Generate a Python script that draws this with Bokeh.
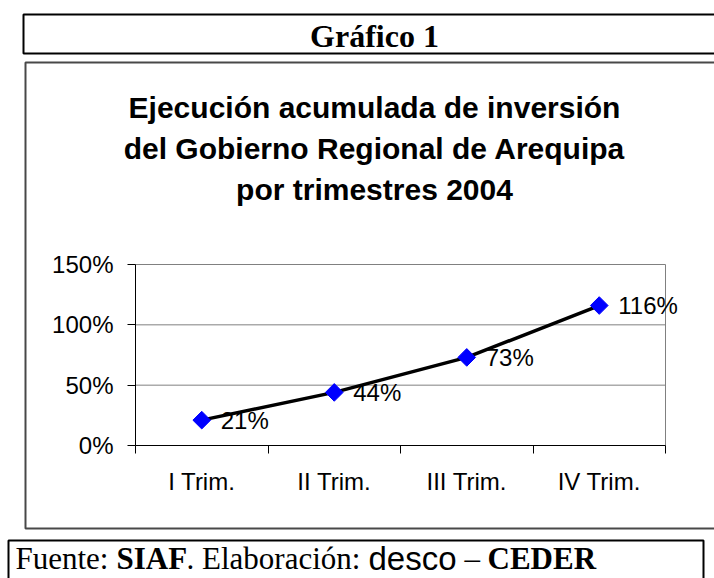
from bokeh.plotting import figure
from bokeh.models import (Range1d, FixedTicker, NumeralTickFormatter, LinearAxis,
                          BoxAnnotation, Label, LabelSet, ColumnDataSource)
from bokeh.core.properties import value
from bokeh.embed import file_html
from bokeh.resources import INLINE
import math

# ---- data ----
categories = ["I Trim.", "II Trim.", "III Trim.", "IV Trim."]
values = [0.21, 0.44, 0.73, 1.16]
value_labels = ["21%", "44%", "73%", "116%"]
y_ticks = [0.0, 0.5, 1.0, 1.5]
header_text = "Gráfico 1"
title_lines = ["Ejecución acumulada de inversión",
               "del Gobierno Regional de Arequipa",
               "por trimestres 2004"]
source_parts = ["Fuente:", "SIAF", ". Elaboración:", "desco", "–", "CEDER"]

SANS = "Liberation Sans"
SERIF = "Liberation Serif"

# ---- layout (pixels) ----
W, H = 714, 578
PLOT_L, PLOT_R, PLOT_T, PLOT_B = 135, 665, 264, 445

nx = len(categories)
ymax = y_ticks[-1]
sx = (PLOT_R - PLOT_L) / nx
sy = (PLOT_B - PLOT_T) / ymax

p = figure(width=W, height=H, output_backend="svg", toolbar_location=None,
           x_range=Range1d(-PLOT_L / sx, nx + (W - PLOT_R) / sx),
           y_range=Range1d(-(H - PLOT_B) / sy, ymax + PLOT_T / sy),
           x_axis_type=None, y_axis_type=None,
           min_border=0, min_border_left=0, min_border_right=0,
           min_border_top=0, min_border_bottom=0)
p.outline_line_color = None
p.background_fill_color = "white"
p.border_fill_color = "white"
p.xgrid.visible = False
p.ygrid.visible = False

xs = [i + 0.5 for i in range(nx)]
bounds = list(range(nx + 1))

# plot-area border and gridlines
p.segment(x0=[0] * (len(y_ticks) - 1), x1=[nx] * (len(y_ticks) - 1),
          y0=y_ticks[1:], y1=y_ticks[1:], line_color="#808080", line_width=1)
p.segment(x0=[nx], x1=[nx], y0=[0], y1=[ymax], line_color="#808080", line_width=1)

yaxis = LinearAxis(ticker=FixedTicker(ticks=y_ticks), fixed_location=0, bounds=(0, ymax),
                   formatter=NumeralTickFormatter(format="0%"),
                   major_tick_out=8, major_tick_in=0,
                   minor_tick_out=0, minor_tick_in=0,
                   axis_line_color="black", major_tick_line_color="black",
                   major_label_text_font=SANS, major_label_text_font_size="24px",
                   major_label_text_color="black", major_label_standoff=14)
p.add_layout(yaxis, "left")

xaxis = LinearAxis(ticker=FixedTicker(ticks=xs, minor_ticks=bounds),
                   fixed_location=0, bounds=(0, nx),
                   major_label_overrides={x: c for x, c in zip(xs, categories)},
                   major_tick_out=0, major_tick_in=0,
                   minor_tick_out=8, minor_tick_in=0,
                   minor_tick_line_color="black",
                   axis_line_color="black",
                   major_label_text_font=SANS, major_label_text_font_size="24px",
                   major_label_text_color="black", major_label_standoff=14)
p.add_layout(xaxis, "below")

src = ColumnDataSource(dict(x=xs, y=values, lab=value_labels))
p.line("x", "y", source=src, line_color="black", line_width=3.5)
p.scatter("x", "y", source=src, marker="square", angle=math.pi / 4, size=12.5,
          fill_color="#0000FF", line_color="#0000FF")
p.add_layout(LabelSet(x="x", y="y", text="lab", source=src, x_offset=19,
                      text_align="left", text_baseline="middle",
                      text_font=value(SANS), text_font_size=value("24px"),
                      text_color="black"))

# ---- frames ----
def box(l, t, r, b, color):
    p.add_layout(BoxAnnotation(left=l, right=r, top=t, bottom=b,
                               left_units="canvas", right_units="canvas",
                               top_units="canvas", bottom_units="canvas",
                               fill_alpha=0, line_color=color, line_width=2, line_alpha=1))

box(23, 14, 740, 53, "black")
box(25, 62, 740, 528, "#484848")
box(8, 540, 703, 620, "black")

# ---- texts ----
def label(x, y, text, font, style, size, align="center"):
    p.add_layout(Label(x=x, y=y, x_units="canvas", y_units="canvas", text=text,
                       text_align=align, text_baseline="middle",
                       text_font=font, text_font_style=style, text_font_size=f"{size}px",
                       text_color="black"))

label(374, 35, header_text, SERIF, "bold", 32)
for i, line in enumerate(title_lines):
    label(374, 107 + 41 * i, line, SANS, "bold", 30)

part_styles = [(SERIF, "normal", 31), (SERIF, "bold", 31), (SERIF, "normal", 31),
               (SANS, "normal", 33), (SERIF, "normal", 31), (SERIF, "bold", 31)]
part_x = [15, 116, 186, 368, 464, 487]
for t, (f, st, sz), x in zip(source_parts, part_styles, part_x):
    label(x, 558, t, f, st, sz, align="left")

open("out.html", "w").write(file_html(p, INLINE))
